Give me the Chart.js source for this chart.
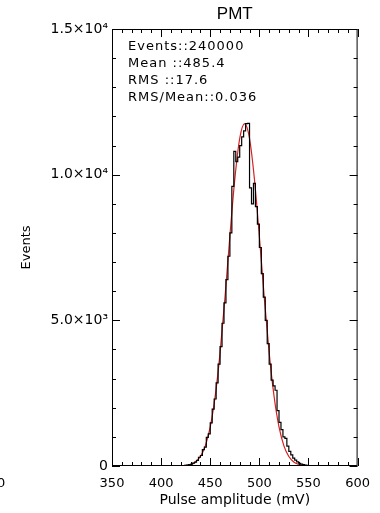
<!DOCTYPE html>
<html>
<head>
<meta charset="utf-8">
<script src="https://cdn.jsdelivr.net/npm/chart.js@4.4.1/dist/chart.umd.min.js"></script>
<style>
html,body{margin:0;padding:0;background:#fff;}
#wrap{width:380px;height:513px;position:relative;}
</style>
</head>
<body>
<div id="wrap"><canvas id="c"></canvas></div>
<script>
// ---- data ----
const chartTitle = "PMT";
const statsLines = ["Events::240000", "Mean ::485.4", "RMS ::17.6", "RMS/Mean::0.036"];
const xTitle = "Pulse amplitude (mV)";
const yTitle = "Events";

// histogram: left bin edges (mV) and counts
const histEdges = [420,422,424,426,428,430,432,434,436,438,440,442,444,446,448,450,452,454,456,458,
  460,462,464,466,468,470,472,474,476,478,480,482,484,486,488,490,492,494,496,498,
  500,502,504,506,508,510,512,514,516,518,520,522,524,526,528,530,532,534,536,538,
  540,542,544,546,548,550,552,554,556];
const histCounts = [10,10,25,30,50,60,100,130,190,300,360,560,650,980,1100,1480,1950,2300,2850,3500,
  4100,4900,5600,6400,7200,8000,9600,10800,10450,10600,11000,11300,11500,11750,11760,9550,9000,9700,8900,8300,
  7500,6600,5800,5000,4200,3500,2950,2750,2600,1900,1500,1250,1000,950,680,500,380,270,200,140,
  95,65,45,30,20,12,8,5,0];

// fitted curve (red), sampled every 5 mV
const fitX = [400,405,410,415,420,425,430,435,440,445,450,455,460,465,470,475,480,485,490,495,
  500,505,510,515,520,525,530,535,540,545,550,555,560,565,570,575,580];
const fitY = [0,0,1,3,7,20,55,140,325,691,1342,2386,3883,5784,7888,9843,11241,11750,11241,9843,
  7888,5784,3883,2386,1342,691,325,140,55,20,7,3,1,0,0,0,0];

// axis ticks
const xMajorTicks = [350,400,450,500,550,600];
const xMinorTicks = [360,370,380,390,410,420,430,440,460,470,480,490,510,520,530,540,560,570,580,590];
const yMajorTicks = [0,5000,10000,15000];
const yTickLabels = ["0","5.0×10³","1.0×10⁴","1.5×10⁴"];
const yMinorTicks = [1000,2000,3000,4000,6000,7000,8000,9000,11000,12000,13000,14000];

const histData = histEdges.map((x,i)=>({x:x, y:histCounts[i]}));
const fitData = fitX.map((x,i)=>({x:x, y:fitY[i]}));

const FONT = "'DejaVu Sans', sans-serif";

const framePlugin = {
  id: 'frame',
  afterDraw(chart) {
    const ctx = chart.ctx, a = chart.chartArea;
    const xs = chart.scales.x, ys = chart.scales.y;
    ctx.save();
    ctx.strokeStyle = '#000';
    ctx.lineWidth = 1;
    ctx.strokeRect(a.left + 0.5, a.top + 0.5, a.right - a.left - 1, a.bottom - a.top - 1);
    ctx.beginPath();
    const tickX = (v, len) => {
      const px = Math.round(xs.getPixelForValue(v)) + 0.5;
      ctx.moveTo(px, a.bottom); ctx.lineTo(px, a.bottom - len);
      ctx.moveTo(px, a.top); ctx.lineTo(px, a.top + len);
    };
    const tickY = (v, len) => {
      const py = Math.round(ys.getPixelForValue(v)) + 0.5;
      ctx.moveTo(a.left, py); ctx.lineTo(a.left + len, py);
      ctx.moveTo(a.right, py); ctx.lineTo(a.right - len, py);
    };
    xMajorTicks.forEach(v => tickX(v, 8));
    xMinorTicks.forEach(v => tickX(v, 4));
    yMajorTicks.forEach(v => tickY(v, 8));
    yMinorTicks.forEach(v => tickY(v, 4));
    ctx.stroke();

    // title
    ctx.fillStyle = '#000';
    ctx.font = "17px 'Liberation Sans', Arial, sans-serif";
    ctx.textAlign = 'center';
    ctx.textBaseline = 'middle';
    ctx.fillText(chartTitle, (a.left + a.right) / 2, 14);

    // stats box text
    ctx.font = "13px " + FONT;
    ctx.textAlign = 'left';
    ctx.textBaseline = 'middle';
    try { ctx.letterSpacing = '1px'; } catch(e) {}
    statsLines.forEach((t, i) => ctx.fillText(t, a.left + 16, 47 + i * 16.8));
    try { ctx.letterSpacing = '0px'; } catch(e) {}

    // stray tick label from neighbouring panel
    ctx.font = "13px " + FONT;
    ctx.textAlign = 'left';
    ctx.fillText("0", -3, 484);
    ctx.restore();
  }
};

new Chart(document.getElementById('c'), {
  type: 'line',
  data: {
    datasets: [
      { label: 'hist', data: histData, borderColor: '#000', borderWidth: 1.2, pointRadius: 0,
        stepped: 'before', fill: false, tension: 0 },
      { label: 'fit', data: fitData, borderColor: '#d81e1e', borderWidth: 1.2, pointRadius: 0,
        cubicInterpolationMode: 'monotone', fill: false }
    ]
  },
  options: {
    responsive: true,
    maintainAspectRatio: false,
    animation: false,
    layout: { padding: { left: 0, right: 21, top: 29, bottom: 0 } },
    plugins: { legend: { display: false }, title: { display: false }, tooltip: { enabled: false } },
    scales: {
      x: {
        type: 'linear', min: 350, max: 600,
        afterFit(s) { s.height = 47; },
        afterBuildTicks(s) { s.ticks = xMajorTicks.map(v => ({ value: v })); },
        ticks: { autoSkip: false, maxRotation: 0, color: '#000', padding: 10,
          font: { family: FONT, size: 13 }, callback: v => String(v) },
        grid: { display: false, drawTicks: false },
        border: { display: false },
        title: { display: true, text: xTitle, color: '#000', font: { family: FONT, size: 14 },
          padding: { top: 0, bottom: 4 } }
      },
      y: {
        type: 'linear', min: 0, max: 15000,
        afterFit(s) { s.width = 112; },
        afterBuildTicks(s) { s.ticks = yMajorTicks.map(v => ({ value: v })); },
        ticks: { autoSkip: false, color: '#000', padding: 4,
          font: { family: FONT, size: 14 },
          callback: v => yTickLabels[yMajorTicks.indexOf(v)] },
        grid: { display: false, drawTicks: false },
        border: { display: false },
        title: { display: true, text: yTitle, color: '#000', font: { family: FONT, size: 13 },
          padding: { top: 19, bottom: 0 } }
      }
    }
  },
  plugins: [framePlugin]
});
</script>
</body>
</html>
